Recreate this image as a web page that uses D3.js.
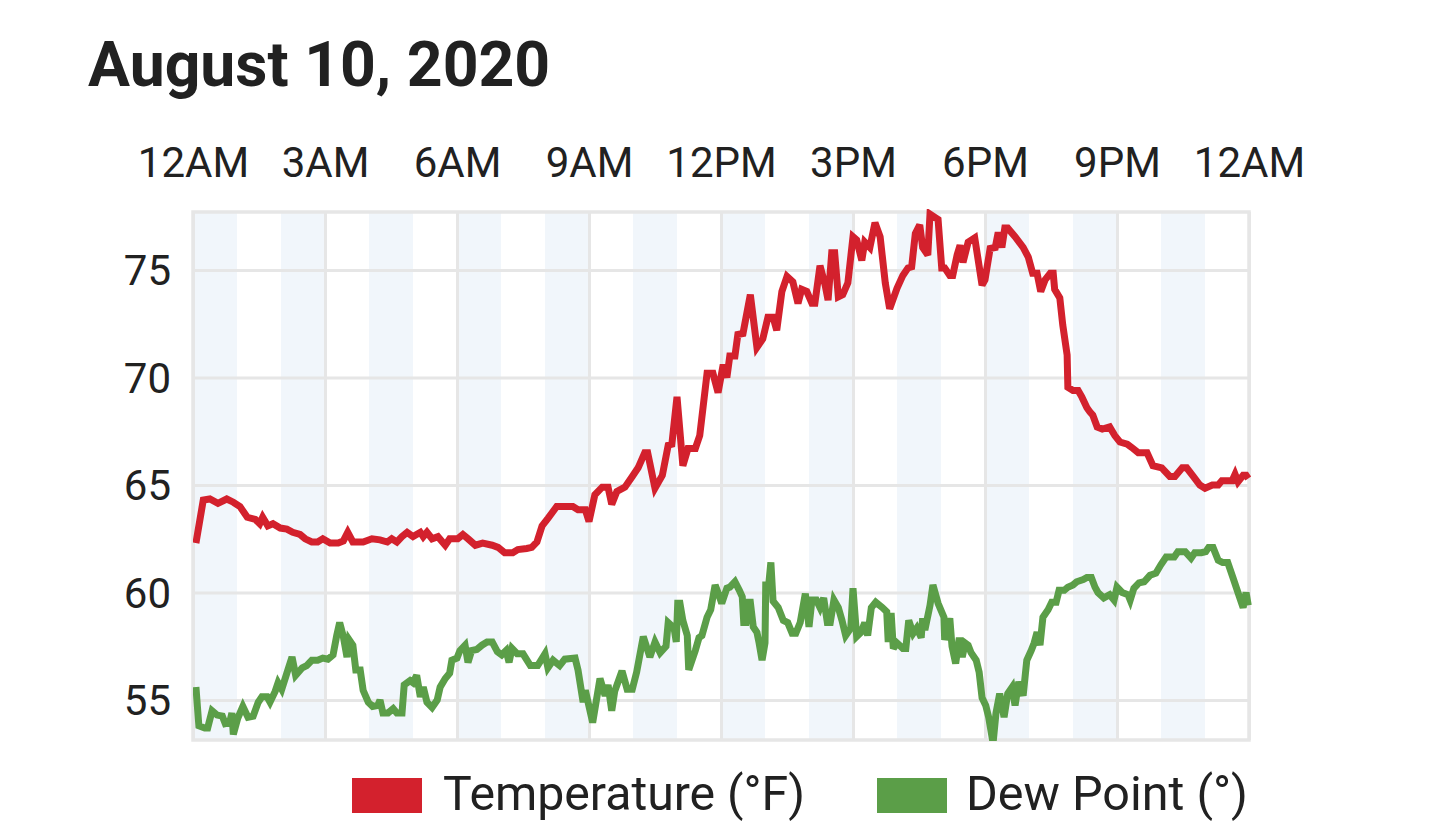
<!DOCTYPE html>
<html>
<head>
<meta charset="utf-8">
<script src="https://cdn.jsdelivr.net/npm/d3@7/dist/d3.min.js"></script>
<style>
  html, body { margin: 0; padding: 0; background: #ffffff; }
  svg { display: block; font-family: Roboto, "Noto Sans", sans-serif; }
</style>
</head>
<body>
<svg id="chart" width="1440" height="822"></svg>
<script>
// ---------- DATA ----------
const title = "August 10, 2020";
const xTickMinutes = [0, 180, 360, 540, 720, 900, 1080, 1260, 1440];
const xTickLabels = ["12AM", "3AM", "6AM", "9AM", "12PM", "3PM", "6PM", "9PM", "12AM"];
const yTickValues = [55, 60, 65, 70, 75];
const shadedBandStartHours = [0, 2, 4, 6, 8, 10, 12, 14, 16, 18, 20, 22];
const seriesNames = ["Temperature (°F)", "Dew Point (°)"];

// minutes after midnight
const tempMinutes = [4,14,23,34,46,55,64,74,85,91,95,102,109,119,128,136,146,153,162,170,177,187,198,205,211,218,232,244,255,265,271,278,285,292,300,310,314,319,326,334,344,350,361,368,375,385,395,408,416,425,436,443,455,462,469,476,484,496,507,518,525,535,540,548,558,566,571,578,589,599,607,616,620,630,640,648,653,660,668,675,685,691,701,709,716,723,728,732,739,743,750,760,769,777,784,791,796,803,810,818,825,830,837,844,848,855,862,866,871,875,880,886,893,900,905,912,916,923,930,937,944,950,960,968,975,980,985,991,995,1002,1005,1016,1021,1025,1032,1036,1042,1046,1050,1057,1066,1076,1080,1087,1094,1098,1103,1107,1111,1121,1132,1139,1145,1151,1156,1162,1169,1173,1175,1182,1186,1192,1193,1200,1207,1212,1219,1223,1227,1233,1240,1250,1257,1264,1274,1280,1289,1301,1309,1321,1332,1339,1349,1355,1364,1373,1380,1390,1398,1403,1417,1421,1425,1432,1436,1439];
const tempValues = [62.3,64.3,64.35,64.15,64.35,64.2,64.0,63.5,63.4,63.2,63.5,63.1,63.2,63.0,62.95,62.8,62.7,62.5,62.35,62.35,62.5,62.3,62.3,62.4,62.8,62.35,62.35,62.5,62.45,62.35,62.5,62.35,62.6,62.8,62.6,62.8,62.6,62.8,62.5,62.6,62.2,62.5,62.5,62.7,62.5,62.2,62.3,62.2,62.1,61.85,61.85,62.0,62.05,62.1,62.35,63.1,63.45,64.0,64.0,64.0,63.85,63.85,63.3,64.55,64.9,64.9,64.1,64.7,64.9,65.4,65.8,66.5,66.5,64.85,65.45,66.85,66.9,69.1,65.9,66.7,66.7,67.3,70.2,70.2,69.3,70.6,70.0,71.0,71.0,72.0,72.05,73.85,71.4,71.8,72.8,72.8,72.2,74.0,74.7,74.45,73.45,74.1,74.0,73.45,73.45,75.2,74.3,73.6,75.8,75.8,73.75,73.85,74.4,76.55,76.4,75.45,76.3,76.05,77.2,76.55,74.4,73.2,74.15,74.75,75.1,75.15,76.7,77.1,76.05,75.7,77.6,77.35,75.1,75.1,74.75,74.75,75.7,76.15,75.35,76.3,76.5,74.3,74.55,76.0,76.05,76.75,76.05,76.95,76.95,76.55,76.05,75.6,74.85,74.85,74.0,74.55,74.85,74.85,74.1,73.7,72.45,71.05,69.55,69.4,69.4,69.1,68.6,68.4,68.25,67.7,67.6,67.7,67.3,67.0,66.9,66.75,66.5,66.5,65.9,65.8,65.4,65.4,65.8,65.8,65.4,65.0,64.85,65.0,65.0,65.2,65.2,65.5,65.15,65.45,65.45,65.3];

const dewMinutes = [4,8,16,20,26,33,40,44,50,53,55,61,68,75,82,89,94,101,105,112,116,121,128,135,140,149,155,162,170,177,184,191,196,200,205,210,213,218,222,228,232,239,245,252,255,259,266,273,278,285,288,296,300,305,310,314,319,326,333,337,344,350,353,360,364,371,375,380,387,394,401,408,415,421,427,431,435,442,450,460,470,480,484,491,500,507,521,525,532,535,545,555,562,566,571,575,585,592,599,605,614,623,630,637,645,648,656,659,661,664,668,674,676,685,690,694,701,706,712,717,721,728,732,739,745,749,751,754,757,760,764,769,772,776,780,781,785,788,791,798,805,811,817,822,828,835,840,844,850,855,860,865,869,874,880,885,890,897,900,905,911,916,920,925,931,940,946,948,952,955,960,968,972,976,982,987,993,995,998,1005,1009,1016,1024,1025,1032,1035,1040,1045,1049,1053,1057,1061,1068,1072,1076,1081,1085,1091,1095,1100,1106,1111,1117,1121,1126,1132,1137,1143,1147,1151,1155,1159,1166,1171,1177,1181,1188,1193,1200,1205,1214,1219,1225,1230,1234,1242,1250,1256,1260,1267,1275,1278,1283,1290,1297,1305,1313,1320,1327,1338,1343,1353,1361,1366,1375,1381,1385,1391,1398,1404,1411,1418,1425,1432,1436,1439];
const dewValues = [55.6,53.8,53.7,53.7,54.5,54.3,54.25,53.9,53.95,54.4,53.4,54.15,54.7,54.2,54.25,54.9,55.15,55.15,54.9,55.4,55.8,55.5,56.25,57.0,56.15,56.5,56.6,56.85,56.85,56.95,56.9,57.1,58.0,58.6,57.95,57.0,57.8,57.55,56.4,56.4,55.45,54.9,54.7,54.75,55.0,54.4,54.4,54.6,54.4,54.4,55.7,55.9,55.8,56.15,55.15,55.6,54.9,54.65,55.0,55.6,56.0,56.25,56.85,56.95,57.3,57.55,56.75,57.3,57.35,57.55,57.7,57.7,57.25,57.1,57.3,56.75,57.4,57.15,57.15,56.6,56.6,57.15,56.5,56.85,56.6,56.9,56.95,56.4,54.9,55.45,53.95,56.0,55.2,55.7,54.5,55.4,56.35,55.5,55.5,56.3,57.95,57.0,57.7,57.2,57.5,58.6,58.35,57.7,59.5,59.5,58.7,58.0,56.4,57.3,57.9,58.0,58.85,59.2,60.35,59.9,59.5,60.2,60.25,60.5,60.1,59.8,58.6,58.6,59.55,59.55,58.4,58.15,57.65,56.85,57.65,60.35,60.35,61.4,59.6,59.3,58.7,58.6,58.1,58.1,58.6,59.95,58.4,59.65,59.65,59.3,59.75,58.6,58.6,59.65,59.3,58.7,58.0,58.35,60.2,57.95,58.15,58.6,58.0,59.3,59.55,59.3,59.1,57.7,59.05,57.4,57.65,57.4,57.4,58.7,58.1,58.35,57.9,58.8,58.25,59.4,60.35,59.5,58.85,57.8,58.8,57.5,56.7,57.9,57.0,57.65,57.55,57.2,56.85,56.3,55.1,54.75,54.2,53.0,54.4,55.3,54.2,55.3,55.6,54.75,55.85,55.2,56.85,57.3,57.65,58.15,57.55,58.85,59.2,59.55,59.55,60.1,60.1,60.25,60.35,60.5,60.6,60.7,60.7,60.25,60.0,59.75,59.9,59.65,60.25,60.0,59.9,59.65,60.2,60.45,60.5,60.8,60.9,61.3,61.65,61.65,61.9,61.9,61.6,61.85,61.85,61.9,62.1,62.1,61.5,61.4,61.4,60.7,60.0,59.3,60.0,59.4];

// ---------- LAYOUT ----------
const svg = d3.select("#chart");
const plot = { left: 193, right: 1249, top: 212, bottom: 740 };
const colors = { temp: "#d3212d", dew: "#5b9e48", grid: "#e6e6e6", band: "#f1f6fb", text: "#212121" };

const x = d3.scaleLinear().domain([0, 1440]).range([plot.left, plot.right]);
const y = d3.scaleLinear().domain([53.14, 77.7]).range([plot.bottom, plot.top]);

// title
svg.append("text")
  .attr("x", 88).attr("y", 86)
  .attr("font-size", 62.5).attr("font-weight", 700)
  .attr("fill", colors.text)
  .text(title);

// shaded bands
svg.append("g").selectAll("rect")
  .data(shadedBandStartHours)
  .join("rect")
  .attr("x", d => x(d * 60))
  .attr("y", plot.top)
  .attr("width", d => x((d + 1) * 60) - x(d * 60))
  .attr("height", plot.bottom - plot.top)
  .attr("fill", colors.band);

// horizontal grid
const yGrid = svg.append("g")
  .attr("transform", `translate(${plot.left},0)`)
  .call(d3.axisLeft(y).tickValues(yTickValues).tickSize(-(plot.right - plot.left)).tickFormat(""));
yGrid.select(".domain").remove();
yGrid.selectAll("line").attr("stroke", colors.grid).attr("stroke-width", 3);

// vertical grid
const xGrid = svg.append("g")
  .attr("transform", `translate(0,${plot.top})`)
  .call(d3.axisTop(x).tickValues(xTickMinutes).tickSize(-(plot.bottom - plot.top)).tickFormat(""));
xGrid.select(".domain").remove();
xGrid.selectAll("line").attr("stroke", colors.grid).attr("stroke-width", 3);

// frame
svg.append("rect")
  .attr("x", plot.left).attr("y", plot.top)
  .attr("width", plot.right - plot.left).attr("height", plot.bottom - plot.top)
  .attr("fill", "none").attr("stroke", colors.grid).attr("stroke-width", 3.5);

// x labels on top
const xAxis = svg.append("g")
  .attr("transform", `translate(0,${plot.top - 35})`)
  .call(d3.axisTop(x).tickValues(xTickMinutes).tickSize(0).tickPadding(0)
    .tickFormat((d, i) => xTickLabels[i]));
xAxis.select(".domain").remove();
xAxis.selectAll("text")
  .attr("font-family", "Roboto").attr("font-size", 42).attr("fill", colors.text)
  .attr("dy", 0);

// y labels
const yAxis = svg.append("g")
  .attr("transform", `translate(${plot.left - 22},0)`)
  .call(d3.axisLeft(y).tickValues(yTickValues).tickSize(0).tickPadding(0));
yAxis.select(".domain").remove();
yAxis.selectAll("text")
  .attr("font-family", "Roboto").attr("font-size", 42).attr("fill", colors.text)
  .attr("dy", "0.35em");

// clip
svg.append("clipPath").attr("id", "plotclip")
  .append("rect")
  .attr("x", plot.left).attr("y", plot.top - 3)
  .attr("width", plot.right - plot.left + 4).attr("height", plot.bottom - plot.top + 4);

const line = d3.line().x(d => x(d[0])).y(d => y(d[1]));
const tempData = tempMinutes.map((m, i) => [m, tempValues[i]]);
const dewData = dewMinutes.map((m, i) => [m, dewValues[i]]);

const lines = svg.append("g").attr("clip-path", "url(#plotclip)");
lines.append("path").datum(dewData)
  .attr("d", line).attr("fill", "none")
  .attr("stroke", colors.dew).attr("stroke-width", 7).attr("stroke-linejoin", "miter").attr("stroke-miterlimit", 3);
lines.append("path").datum(tempData)
  .attr("d", line).attr("fill", "none")
  .attr("stroke", colors.temp).attr("stroke-width", 7).attr("stroke-linejoin", "miter").attr("stroke-miterlimit", 3);

// legend
const legendItems = [
  { name: seriesNames[0], color: colors.temp, sx: 352, tx: 443, len: 362 },
  { name: seriesNames[1], color: colors.dew, sx: 877, tx: 966, len: 282 }
];
const lg = svg.append("g");
legendItems.forEach(it => {
  lg.append("rect").attr("x", it.sx).attr("y", 778).attr("width", 70).attr("height", 35).attr("fill", it.color);
  lg.append("text").attr("x", it.tx).attr("y", 810)
    .attr("font-size", 48).attr("fill", colors.text)
    .attr("textLength", it.len).attr("lengthAdjust", "spacingAndGlyphs")
    .text(it.name);
});
</script>
</body>
</html>
